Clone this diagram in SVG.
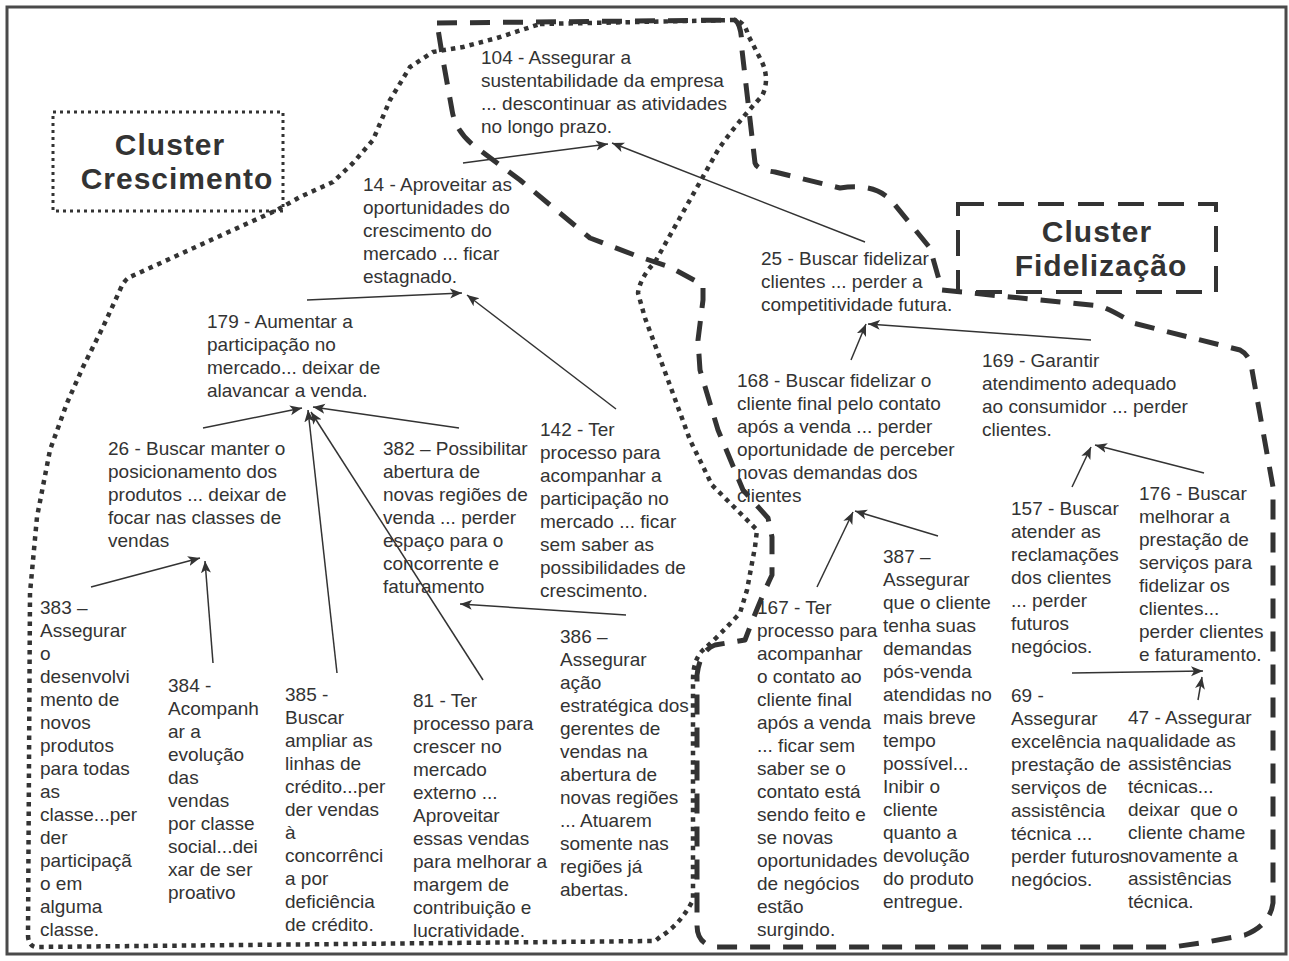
<svg xmlns="http://www.w3.org/2000/svg" width="1289" height="961" viewBox="0 0 1289 961">
<style>
.t{font-family:"Liberation Sans",Arial,sans-serif;font-size:19px;fill:#333}
.h{font-family:"Liberation Sans",Arial,sans-serif;font-size:30px;letter-spacing:1px;font-weight:bold;fill:#333;text-anchor:middle}
.c{fill:none;stroke:#333;stroke-width:1.5;marker-end:url(#ah)}
.dot{fill:none;stroke:#333;stroke-width:4.5;stroke-dasharray:4.5 5;stroke-linejoin:round}
.dash{fill:none;stroke:#333;stroke-width:5;stroke-dasharray:20 13;stroke-linejoin:round}
</style>
<defs>
<marker id="ah" markerWidth="14" markerHeight="12" refX="12" refY="6" orient="auto" markerUnits="userSpaceOnUse">
<path d="M0,1 L12,6 L0,11 L3,6 Z" fill="#333"/>
</marker>
</defs>
<rect x="0" y="0" width="1289" height="961" fill="#fff"/>
<rect x="7" y="7" width="1279" height="947" fill="none" stroke="#4a4a4a" stroke-width="3"/>

<g id="clusters">
<path class="dot" d="M540,24 L735,20 Q745,22 748,35 L762,62 Q770,80 762,96 Q735,125 718,150 L700,182 L655,262 Q640,278 638,293 L645,318 L668,380 L690,440 L712,485 L730,503 L757,530 L755,547 L747,590 L740,613 Q720,635 703,650 Q693,660 693,680 L693,900 Q680,925 660,937 L655,941 L35,947 Q28,945 28,935 L30,593 L37,517 L50,450 L67,403 L83,367 L103,327 L120,290 Q124,280 130,277 L233,230 L277,210 L300,197 L333,182 L353,163 L373,140 L390,100 L410,67 L433,52 L463,47 L497,38 Z"/>
<path class="dash" d="M437,23 L735,20 Q742,25 742,50 L755,163 Q757,170 775,172 L840,188 Q878,182 895,205 L930,248 L942,290 L1010,297 L1100,306 Q1112,310 1133,323 L1240,350 Q1250,355 1252,370 L1273,487 L1273,903 Q1270,925 1245,935 L1207,942 L1173,947 L715,947 Q697,944 697,925 L697,675 Q700,650 715,645 L745,640 Q760,600 772,575 L772,537 L768,518 L743,490 L718,430 L700,370 L698,340 L703,300 L703,285 L670,267 L637,256 L590,238 L520,180 L473,145 Q455,130 452,110 L443,60 Z"/>
</g>

<g id="cluster-crescimento">
<rect x="53" y="112" width="230" height="99" fill="none" stroke="#333" stroke-width="3" stroke-dasharray="3 4"/>
<text class="h" x="170" y="155"><tspan x="170">Cluster</tspan><tspan x="177" dy="34">Crescimento</tspan></text>
</g>
<g id="cluster-fidelizacao">
<rect x="958" y="204" width="258" height="88" fill="none" stroke="#333" stroke-width="4" stroke-dasharray="26 14"/>
<text class="h" x="1097" y="242"><tspan x="1097">Cluster</tspan><tspan x="1101" dy="34">Fidelização</tspan></text>
</g>

<g id="connectors">
<line class="c" x1="463" y1="163" x2="608" y2="144"/>
<line class="c" x1="865" y1="242" x2="612" y2="143"/>
<line class="c" x1="307" y1="300" x2="462" y2="293"/>
<line class="c" x1="616" y1="409" x2="467" y2="295"/>
<line class="c" x1="203" y1="428" x2="302" y2="408"/>
<line class="c" x1="459" y1="428" x2="313" y2="407"/>
<line class="c" x1="337" y1="673" x2="308" y2="410"/>
<line class="c" x1="483" y1="680" x2="311" y2="412"/>
<line class="c" x1="91" y1="587" x2="200" y2="558"/>
<line class="c" x1="213" y1="663" x2="205" y2="561"/>
<line class="c" x1="626" y1="615" x2="460" y2="604"/>
<line class="c" x1="851" y1="360" x2="866" y2="324"/>
<line class="c" x1="1091" y1="340" x2="868" y2="324"/>
<line class="c" x1="817" y1="587" x2="853" y2="512"/>
<line class="c" x1="938" y1="536" x2="855" y2="511"/>
<line class="c" x1="1072" y1="487" x2="1091" y2="447"/>
<line class="c" x1="1204" y1="473" x2="1095" y2="445"/>
<line class="c" x1="1072" y1="673" x2="1203" y2="671"/>
<line class="c" x1="1198" y1="700" x2="1202" y2="677"/>
</g>

<g id="n104"><text class="t" x="481" y="64"><tspan x="481">104 - Assegurar a</tspan><tspan x="481" dy="23">sustentabilidade da empresa</tspan><tspan x="481" dy="23">... descontinuar as atividades</tspan><tspan x="481" dy="23">no longo prazo.</tspan></text></g>

<g id="n14"><text class="t" x="363" y="191"><tspan x="363">14 - Aproveitar as</tspan><tspan x="363" dy="23">oportunidades do</tspan><tspan x="363" dy="23">crescimento do</tspan><tspan x="363" dy="23">mercado ... ficar</tspan><tspan x="363" dy="23">estagnado.</tspan></text></g>

<g id="n179"><text class="t" x="207" y="328"><tspan x="207">179 - Aumentar a</tspan><tspan x="207" dy="23">participação no</tspan><tspan x="207" dy="23">mercado... deixar de</tspan><tspan x="207" dy="23">alavancar a venda.</tspan></text></g>

<g id="n26"><text class="t" x="108" y="455"><tspan x="108">26 - Buscar manter o</tspan><tspan x="108" dy="23">posicionamento dos</tspan><tspan x="108" dy="23">produtos ... deixar de</tspan><tspan x="108" dy="23">focar nas classes de</tspan><tspan x="108" dy="23">vendas</tspan></text></g>

<g id="n382"><text class="t" x="383" y="455"><tspan x="383">382 – Possibilitar</tspan><tspan x="383" dy="23">abertura de</tspan><tspan x="383" dy="23">novas regiões de</tspan><tspan x="383" dy="23">venda ... perder</tspan><tspan x="383" dy="23">espaço para o</tspan><tspan x="383" dy="23">concorrente e</tspan><tspan x="383" dy="23">faturamento</tspan></text></g>

<g id="n142"><text class="t" x="540" y="436"><tspan x="540">142 - Ter</tspan><tspan x="540" dy="23">processo para</tspan><tspan x="540" dy="23">acompanhar a</tspan><tspan x="540" dy="23">participação no</tspan><tspan x="540" dy="23">mercado ... ficar</tspan><tspan x="540" dy="23">sem saber as</tspan><tspan x="540" dy="23">possibilidades de</tspan><tspan x="540" dy="23">crescimento.</tspan></text></g>

<g id="n383"><text class="t" x="40" y="614"><tspan x="40">383 –</tspan><tspan x="40" dy="23">Assegurar</tspan><tspan x="40" dy="23">o</tspan><tspan x="40" dy="23">desenvolvi</tspan><tspan x="40" dy="23">mento de</tspan><tspan x="40" dy="23">novos</tspan><tspan x="40" dy="23">produtos</tspan><tspan x="40" dy="23">para todas</tspan><tspan x="40" dy="23">as</tspan><tspan x="40" dy="23">classe...per</tspan><tspan x="40" dy="23">der</tspan><tspan x="40" dy="23">participaçã</tspan><tspan x="40" dy="23">o em</tspan><tspan x="40" dy="23">alguma</tspan><tspan x="40" dy="23">classe.</tspan></text></g>

<g id="n384"><text class="t" x="168" y="692"><tspan x="168">384 -</tspan><tspan x="168" dy="23">Acompanh</tspan><tspan x="168" dy="23">ar a</tspan><tspan x="168" dy="23">evolução</tspan><tspan x="168" dy="23">das</tspan><tspan x="168" dy="23">vendas</tspan><tspan x="168" dy="23">por classe</tspan><tspan x="168" dy="23">social...dei</tspan><tspan x="168" dy="23">xar de ser</tspan><tspan x="168" dy="23">proativo</tspan></text></g>

<g id="n385"><text class="t" x="285" y="701"><tspan x="285">385 -</tspan><tspan x="285" dy="23">Buscar</tspan><tspan x="285" dy="23">ampliar as</tspan><tspan x="285" dy="23">linhas de</tspan><tspan x="285" dy="23">crédito...per</tspan><tspan x="285" dy="23">der vendas</tspan><tspan x="285" dy="23">à</tspan><tspan x="285" dy="23">concorrênci</tspan><tspan x="285" dy="23">a por</tspan><tspan x="285" dy="23">deficiência</tspan><tspan x="285" dy="23">de crédito.</tspan></text></g>

<g id="n81"><text class="t" x="413" y="707"><tspan x="413">81 - Ter</tspan><tspan x="413" dy="23">processo para</tspan><tspan x="413" dy="23">crescer no</tspan><tspan x="413" dy="23">mercado</tspan><tspan x="413" dy="23">externo ...</tspan><tspan x="413" dy="23">Aproveitar</tspan><tspan x="413" dy="23">essas vendas</tspan><tspan x="413" dy="23">para melhorar a</tspan><tspan x="413" dy="23">margem de</tspan><tspan x="413" dy="23">contribuição e</tspan><tspan x="413" dy="23">lucratividade.</tspan></text></g>

<g id="n386"><text class="t" x="560" y="643"><tspan x="560">386 –</tspan><tspan x="560" dy="23">Assegurar</tspan><tspan x="560" dy="23">ação</tspan><tspan x="560" dy="23">estratégica dos</tspan><tspan x="560" dy="23">gerentes de</tspan><tspan x="560" dy="23">vendas na</tspan><tspan x="560" dy="23">abertura de</tspan><tspan x="560" dy="23">novas regiões</tspan><tspan x="560" dy="23">... Atuarem</tspan><tspan x="560" dy="23">somente nas</tspan><tspan x="560" dy="23">regiões já</tspan><tspan x="560" dy="23">abertas.</tspan></text></g>

<g id="n25"><text class="t" x="761" y="265"><tspan x="761">25 - Buscar fidelizar</tspan><tspan x="761" dy="23">clientes ... perder a</tspan><tspan x="761" dy="23">competitividade futura.</tspan></text></g>

<g id="n168"><text class="t" x="737" y="387"><tspan x="737">168 - Buscar fidelizar o</tspan><tspan x="737" dy="23">cliente final pelo contato</tspan><tspan x="737" dy="23">após a venda ... perder</tspan><tspan x="737" dy="23">oportunidade de perceber</tspan><tspan x="737" dy="23">novas demandas dos</tspan><tspan x="737" dy="23">clientes</tspan></text></g>

<g id="n169"><text class="t" x="982" y="367"><tspan x="982">169 - Garantir</tspan><tspan x="982" dy="23">atendimento adequado</tspan><tspan x="982" dy="23">ao consumidor ... perder</tspan><tspan x="982" dy="23">clientes.</tspan></text></g>

<g id="n167"><text class="t" x="757" y="614"><tspan x="757">167 - Ter</tspan><tspan x="757" dy="23">processo para</tspan><tspan x="757" dy="23">acompanhar</tspan><tspan x="757" dy="23">o contato ao</tspan><tspan x="757" dy="23">cliente final</tspan><tspan x="757" dy="23">após a venda</tspan><tspan x="757" dy="23">... ficar sem</tspan><tspan x="757" dy="23">saber se o</tspan><tspan x="757" dy="23">contato está</tspan><tspan x="757" dy="23">sendo feito e</tspan><tspan x="757" dy="23">se novas</tspan><tspan x="757" dy="23">oportunidades</tspan><tspan x="757" dy="23">de negócios</tspan><tspan x="757" dy="23">estão</tspan><tspan x="757" dy="23">surgindo.</tspan></text></g>

<g id="n387"><text class="t" x="883" y="563"><tspan x="883">387 –</tspan><tspan x="883" dy="23">Assegurar</tspan><tspan x="883" dy="23">que o cliente</tspan><tspan x="883" dy="23">tenha suas</tspan><tspan x="883" dy="23">demandas</tspan><tspan x="883" dy="23">pós-venda</tspan><tspan x="883" dy="23">atendidas no</tspan><tspan x="883" dy="23">mais breve</tspan><tspan x="883" dy="23">tempo</tspan><tspan x="883" dy="23">possível...</tspan><tspan x="883" dy="23">Inibir o</tspan><tspan x="883" dy="23">cliente</tspan><tspan x="883" dy="23">quanto a</tspan><tspan x="883" dy="23">devolução</tspan><tspan x="883" dy="23">do produto</tspan><tspan x="883" dy="23">entregue.</tspan></text></g>

<g id="n157"><text class="t" x="1011" y="515"><tspan x="1011">157 - Buscar</tspan><tspan x="1011" dy="23">atender as</tspan><tspan x="1011" dy="23">reclamações</tspan><tspan x="1011" dy="23">dos clientes</tspan><tspan x="1011" dy="23">... perder</tspan><tspan x="1011" dy="23">futuros</tspan><tspan x="1011" dy="23">negócios.</tspan></text></g>

<g id="n176"><text class="t" x="1139" y="500"><tspan x="1139">176 - Buscar</tspan><tspan x="1139" dy="23">melhorar a</tspan><tspan x="1139" dy="23">prestação de</tspan><tspan x="1139" dy="23">serviços para</tspan><tspan x="1139" dy="23">fidelizar os</tspan><tspan x="1139" dy="23">clientes...</tspan><tspan x="1139" dy="23">perder clientes</tspan><tspan x="1139" dy="23">e faturamento.</tspan></text></g>

<g id="n69"><text class="t" x="1011" y="702"><tspan x="1011">69 -</tspan><tspan x="1011" dy="23">Assegurar</tspan><tspan x="1011" dy="23">excelência na</tspan><tspan x="1011" dy="23">prestação de</tspan><tspan x="1011" dy="23">serviços de</tspan><tspan x="1011" dy="23">assistência</tspan><tspan x="1011" dy="23">técnica ...</tspan><tspan x="1011" dy="23">perder futuros</tspan><tspan x="1011" dy="23">negócios.</tspan></text></g>

<g id="n47"><text class="t" x="1128" y="724"><tspan x="1128">47 - Assegurar</tspan><tspan x="1128" dy="23">qualidade as</tspan><tspan x="1128" dy="23">assistências</tspan><tspan x="1128" dy="23">técnicas...</tspan><tspan x="1128" dy="23" xml:space="preserve">deixar  que o</tspan><tspan x="1128" dy="23">cliente chame</tspan><tspan x="1128" dy="23">novamente a</tspan><tspan x="1128" dy="23">assistências</tspan><tspan x="1128" dy="23">técnica.</tspan></text></g>
</svg>
